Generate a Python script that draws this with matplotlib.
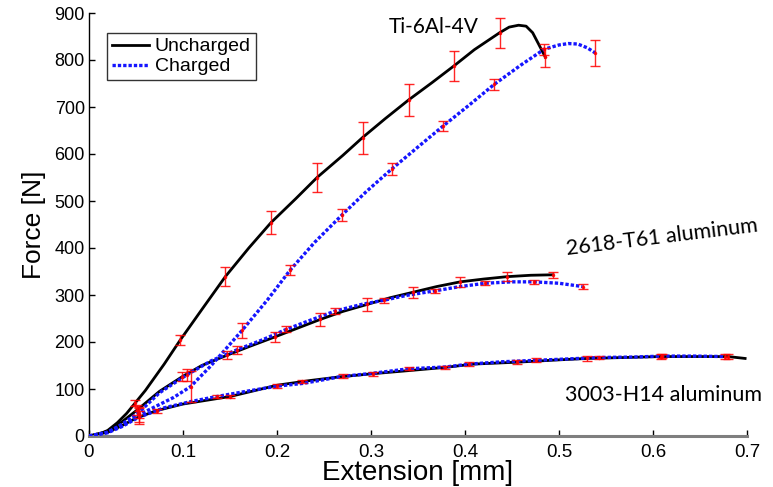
import matplotlib
matplotlib.use("Agg")
import matplotlib.pyplot as plt

# ---------------- data ----------------
# Ti-6Al-4V uncharged
ti_u_x = [0, 0.01, 0.02, 0.03, 0.04, 0.049, 0.06, 0.07, 0.08, 0.097, 0.12, 0.145, 0.17,
          0.1936, 0.22, 0.2426, 0.27, 0.291, 0.315, 0.34, 0.365, 0.3886, 0.41, 0.4368,
          0.447, 0.457, 0.465, 0.472, 0.478, 0.4855]
ti_u_y = [0, 3, 12, 28, 48, 70, 97, 125, 153, 204, 269, 339, 400,
          454, 505, 550, 597, 635, 675, 715, 752, 788, 822, 858,
          870, 874, 872, 858, 835, 806]
ti_u_ex = [0.049, 0.097, 0.145, 0.1936, 0.2426, 0.291, 0.34, 0.3886, 0.4368, 0.4855]
ti_u_ey = [70, 204, 339, 454, 550, 635, 715, 788, 858, 806]
ti_u_ee = [7, 11, 20, 24, 30, 34, 34, 32, 32, 20]

# Ti-6Al-4V charged
ti_c_x = [0, 0.02, 0.04, 0.053, 0.07, 0.09, 0.108, 0.13, 0.163, 0.19, 0.214, 0.24, 0.269,
          0.295, 0.322, 0.35, 0.377, 0.405, 0.431, 0.46, 0.4844, 0.50, 0.51, 0.52, 0.53, 0.5386]
ti_c_y = [0, 8, 28, 45, 62, 82, 105, 150, 225, 290, 353, 412, 470,
          520, 568, 615, 660, 705, 748, 790, 823, 832, 835, 834, 826, 815]
ti_c_ex = [0.053, 0.108, 0.163, 0.214, 0.269, 0.322, 0.377, 0.431, 0.4844, 0.5386]
ti_c_ey = [45, 105, 225, 353, 470, 568, 660, 748, 823, 815]
ti_c_ee = [15, 33, 16, 11, 13, 13, 11, 11, 12, 27]

# 2618-T61 aluminum uncharged
al2_u_x = [0, 0.02, 0.035, 0.051, 0.075, 0.099, 0.12, 0.147, 0.17, 0.198, 0.22, 0.246,
           0.27, 0.296, 0.32, 0.345, 0.37, 0.395, 0.42, 0.4447, 0.47, 0.4936]
al2_u_y = [0, 10, 30, 55, 95, 126, 150, 172, 190, 211, 228, 248,
           265, 280, 294, 306, 318, 328, 334, 339, 342, 343]
al2_u_ex = [0.051, 0.099, 0.147, 0.198, 0.246, 0.296, 0.345, 0.395, 0.4447, 0.4936]
al2_u_ey = [55, 126, 172, 211, 248, 280, 306, 328, 339, 343]
al2_u_ee = [10, 10, 8, 10, 13, 13, 12, 11, 10, 6]

# 2618-T61 aluminum charged
al2_c_x = [0, 0.02, 0.035, 0.053, 0.075, 0.104, 0.13, 0.157, 0.185, 0.21, 0.235, 0.262,
           0.29, 0.314, 0.34, 0.3685, 0.395, 0.4216, 0.45, 0.473, 0.5, 0.525]
al2_c_y = [0, 8, 25, 50, 92, 130, 160, 183, 205, 227, 246, 266,
           280, 289, 300, 309, 318, 325, 328, 328, 325, 318]
al2_c_ex = [0.053, 0.104, 0.157, 0.21, 0.262, 0.314, 0.3685, 0.4216, 0.473, 0.525]
al2_c_ey = [50, 130, 183, 227, 266, 289, 309, 325, 328, 318]
al2_c_ee = [12, 12, 8, 6, 7, 5, 4, 4, 4, 5]

# 3003-H14 aluminum uncharged
al3_u_x = [0, 0.02, 0.035, 0.05, 0.072, 0.1, 0.125, 0.15, 0.175, 0.2, 0.235, 0.2674,
           0.299, 0.345, 0.379, 0.409, 0.455, 0.5, 0.53, 0.57, 0.608, 0.645, 0.68, 0.698]
al3_u_y = [0, 8, 22, 38, 54, 68, 76, 84, 96, 108, 118, 126,
           132, 140, 146, 153, 157, 162, 165, 167, 169, 169, 169, 165]
al3_u_ex = [0.072, 0.15, 0.227, 0.302, 0.379, 0.455, 0.53, 0.608, 0.68]
al3_u_ey = [54, 84, 116, 132, 146, 157, 165, 169, 169]
al3_u_ee = [4, 4, 4, 4, 4, 4, 5, 5, 6]

# 3003-H14 aluminum charged
al3_c_x = [0, 0.02, 0.035, 0.053, 0.08, 0.11, 0.136, 0.17, 0.2, 0.228, 0.27, 0.30,
           0.34, 0.38, 0.4047, 0.44, 0.475, 0.51, 0.543, 0.58, 0.6098, 0.645, 0.677]
al3_c_y = [0, 7, 20, 40, 60, 74, 84, 96, 106, 112, 127, 133,
           143, 147, 153, 158, 161, 164, 167, 168, 170, 170, 169]
al3_c_ex = [0.053, 0.136, 0.2, 0.27, 0.34, 0.4047, 0.475, 0.543, 0.6098, 0.677]
al3_c_ey = [40, 84, 106, 127, 143, 153, 161, 167, 170, 169]
al3_c_ee = [14, 3, 4, 4, 3, 4, 4, 4, 5, 5]

x_ticks = [0, 0.1, 0.2, 0.3, 0.4, 0.5, 0.6, 0.7]
x_tick_labels = ["0", "0.1", "0.2", "0.3", "0.4", "0.5", "0.6", "0.7"]
y_ticks = [0, 100, 200, 300, 400, 500, 600, 700, 800, 900]

# ---------------- figure ----------------
fig = plt.figure(figsize=(7.73, 4.87), dpi=100)
ax = fig.add_axes([89 / 773, 1 - 436 / 487, (747 - 89) / 773, (436 - 13) / 487])

sans = ["Liberation Sans", "DejaVu Sans"]
cal = ["Lato", "DejaVu Sans"]

unc = dict(color="black", lw=2.0, ls="-", zorder=2)
chg = dict(color="#1515ff", lw=2.4, ls=(0, (1, 0.6)), zorder=3)
eb = dict(fmt=".", color="red", ecolor="red", markersize=3, elinewidth=1.0,
          capsize=3.5, capthick=1.0, zorder=4, alpha=0.85)

ax.plot(ti_u_x, ti_u_y, label="Uncharged", **unc)
ax.plot(ti_c_x, ti_c_y, label="Charged", **chg)
ax.plot(al2_u_x, al2_u_y, **unc)
ax.plot(al2_c_x, al2_c_y, **chg)
ax.plot(al3_u_x, al3_u_y, **unc)
ax.plot(al3_c_x, al3_c_y, **chg)

for ex, ey, ee in [(ti_u_ex, ti_u_ey, ti_u_ee), (ti_c_ex, ti_c_ey, ti_c_ee),
                   (al2_u_ex, al2_u_ey, al2_u_ee), (al2_c_ex, al2_c_ey, al2_c_ee),
                   (al3_u_ex, al3_u_ey, al3_u_ee), (al3_c_ex, al3_c_ey, al3_c_ee)]:
    ax.errorbar(ex, ey, yerr=ee, **eb)

ax.set_xlim(0, 0.7)
ax.set_ylim(0, 900)
ax.set_xticks(x_ticks)
ax.set_xticklabels(x_tick_labels, family=sans, fontsize=13.5)
ax.set_yticks(y_ticks)
ax.set_yticklabels([str(v) for v in y_ticks], family=sans, fontsize=13)
ax.tick_params(direction="in", length=4, width=1)
ax.tick_params(axis="x", pad=6)
ax.tick_params(axis="y", pad=3)

ax.spines["top"].set_visible(False)
ax.spines["right"].set_visible(False)
ax.spines["left"].set_color("black")
ax.spines["left"].set_linewidth(1.0)
ax.spines["bottom"].set_color("#7f7f7f")
ax.spines["bottom"].set_linewidth(2.2)

ax.set_xlabel("Extension [mm]", family=sans, fontsize=20, labelpad=-1)
ax.set_ylabel("Force [N]", family=sans, fontsize=19, labelpad=6)

leg = ax.legend(loc="upper left", bbox_to_anchor=((107 - 89) / 658, (436 - 33) / 423),
                prop={"family": sans, "size": 14}, frameon=True, fancybox=False,
                edgecolor="black", borderpad=0.25, labelspacing=0.12, handlelength=1.9,
                handletextpad=0.3, borderaxespad=0)
leg.get_frame().set_linewidth(1.0)

ax.text(0.367, 871, "Ti-6Al-4V", family=cal, fontsize=15, ha="center", va="center")
ax.text(0.61, 423, "2618-T61 aluminum", family=cal, fontsize=15.5, ha="center",
        va="center", rotation=7)
ax.text(0.611, 87, "3003-H14 aluminum", family=cal, fontsize=15.5, ha="center", va="center")

fig.savefig("out.png", dpi=100)
